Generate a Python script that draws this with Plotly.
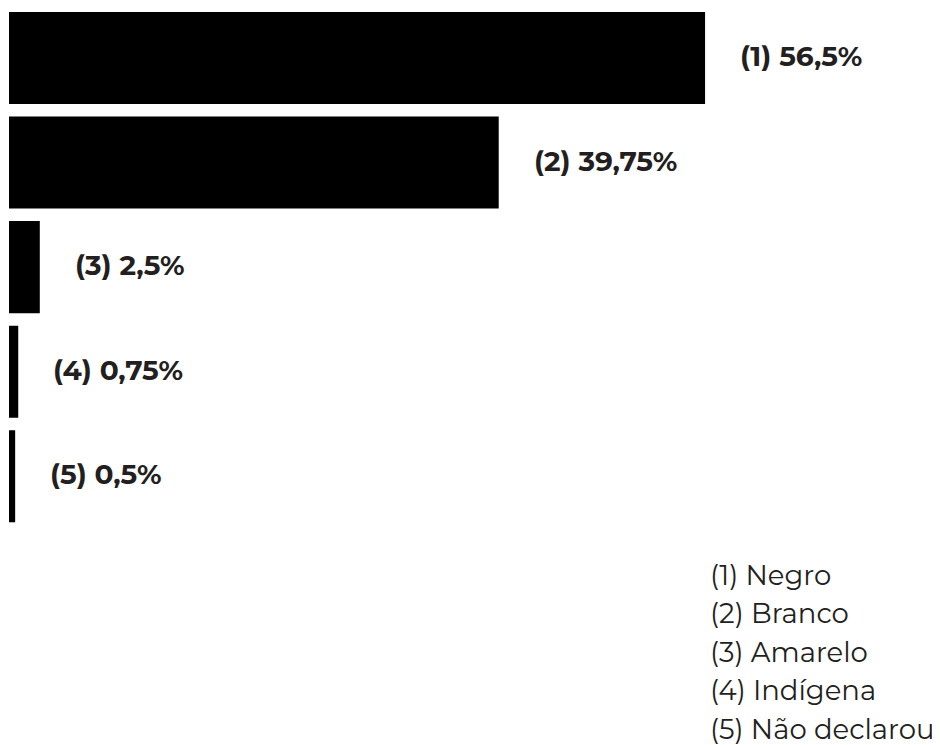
import plotly.graph_objects as go

categories = ["Negro", "Branco", "Amarelo", "Indígena", "Não declarou"]
codes = ["(1)", "(2)", "(3)", "(4)", "(5)"]
values = [56.5, 39.75, 2.5, 0.75, 0.5]

TEXT_COLOR = "#231f20"
FONT = "Montserrat, 'Noto Sans', sans-serif"

W, H = 940, 745
ML, MT = 1, 0
slot = 104.6
y_top, y_bottom = -0.478, 4.6
plot_h = slot * (y_bottom - y_top)
MB = H - MT - plot_h
plot_w = W - ML
px_per_unit = 12.32

fig = go.Figure(
    go.Bar(
        x=values,
        y=codes,
        orientation="h",
        width=0.88,
        marker={"color": "#000000", "line": {"width": 0}},
        hoverinfo="skip",
    )
)

for code, val in zip(codes, values):
    label = f"{val:g}".replace(".", ",")
    fig.add_annotation(
        x=val, y=code, xref="x", yref="y",
        text=f"<b>{code} {label}%</b>",
        showarrow=False, xanchor="left", yanchor="middle",
        xshift=33, yshift=2,
        font={"size": 28, "color": TEXT_COLOR, "family": FONT},
    )

# category key in the bottom right (pixel spots -> paper coords)
key_x, key_y0, key_step = 700, 567, 38.5
for i, (code, name) in enumerate(zip(codes, categories)):
    fig.add_annotation(
        x=(key_x - ML) / plot_w,
        y=1 - (key_y0 + i * key_step - MT) / plot_h,
        xref="paper", yref="paper",
        text=f"{code} {name}",
        showarrow=False, xanchor="left", yanchor="middle",
        font={"size": 27.5, "color": TEXT_COLOR, "family": FONT},
    )

fig.update_layout(
    width=W, height=H,
    margin={"l": ML, "r": 0, "t": MT, "b": MB, "pad": 0},
    paper_bgcolor="white", plot_bgcolor="white",
    showlegend=False,
    xaxis={"range": [0, plot_w / px_per_unit], "visible": False, "fixedrange": True},
    yaxis={"range": [y_bottom, y_top], "visible": False, "fixedrange": True},
)

fig.write_html("out.html", config={"displayModeBar": False})
